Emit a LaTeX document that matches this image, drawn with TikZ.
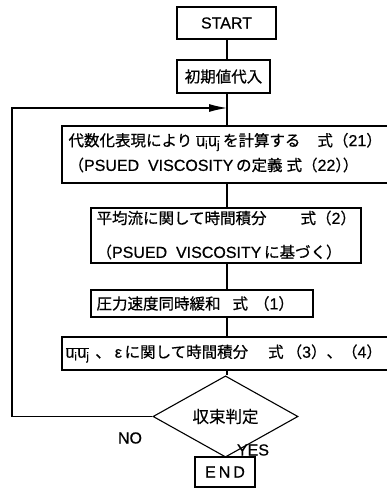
\documentclass[tikz,border=0pt]{standalone}
\usepackage{fontspec}
\setmainfont{Liberation Sans}[FakeBold=0.6]
\newfontfamily\jpfont{Noto Sans CJK JP}[FakeBold=0.6]
\newcommand\J[1]{{\jpfont\fontsize{15.5}{18}\selectfont #1}}
\newcommand\uu{\(\overline{\hbox{u\textsubscript{i}u\textsubscript{j}}}\)}
\usetikzlibrary{shapes.geometric,arrows.meta}
\begin{document}
\begin{tikzpicture}[x=1pt,y=-1pt,line width=1.1pt,
  every node/.style={font=\fontsize{16}{19}\selectfont},
  box/.style={draw,rectangle,inner sep=0pt},
  txt/.style={inner sep=0pt,anchor=west},
  decision/.style={draw,diamond,inner sep=0pt,minimum width=145pt,minimum height=47pt},
  lbl/.style={inner sep=0pt},
  looparrow/.style={-{Latex[length=18pt,width=8pt]}}]
\useasboundingbox (0,0) rectangle (386,495);
\coordinate (spine) at (227,0);
% boxes
\node[box,minimum width=99pt,minimum height=32pt] (start) at (226.5,23) {START};
\node[box,minimum width=93pt,minimum height=33pt] (init) at (223.5,76.5) {\J{初期値代入}};
\node[box,minimum width=350pt,minimum height=57pt] (calc) at (237,154.5) {};
\node[txt] (calc1) at (68,142) {\J{代数化表現により}\hspace{4pt}\uu\hspace{3pt}\J{を計算する}\hspace{17pt}\J{式（}21\J{）}};
\node[txt] (calc2) at (68,165) {\J{（}PSUED\ \ VISCOSITY\,\J{の定義\hspace{4pt}式（}22\J{）}\hspace{-8pt}\J{）}};
\node[box,minimum width=270pt,minimum height=55pt] (mean) at (226,235.5) {};
\node[txt] (mean1) at (96,218) {\J{平均流に関して時間積分}\hspace{34pt}\J{式（}2\J{）}};
\node[txt] (mean2) at (96,252) {\J{（}PSUED\ \ VISCOSITY\,\J{に基づく）}};
\node[box,minimum width=222pt,minimum height=27pt] (press) at (202,303.5) {};
\node[txt] (press1) at (96,303.5) {\J{圧力速度同時緩和}\hspace{12pt}\J{式}\hspace{6pt}\J{（}1\J{）}};
\node[box,minimum width=350pt,minimum height=33pt] (turb) at (237,353.5) {};
\node[txt] (turb1) at (65,353.5) {\uu\hspace{6pt}\J{、}\hspace{4pt}ε\,\J{に関して時間積分}\hspace{20pt}\J{式\hspace{3pt}（}3\J{）、（}4\J{）}};
\node[decision] (judge) at (225.5,416.5) {{\jpfont\fontsize{16.5}{18}\selectfont 収束判定}};
\node[box,minimum width=60pt,minimum height=30pt] (end) at (225,472) {E\hspace{3pt}N\hspace{3pt}D};
\node[lbl] (no) at (130,438) {NO};
\node[lbl] (yes) at (253,450) {YES};
% connectors
\draw (start.south -| spine) -- (init.north -| spine);
\draw (init.south -| spine) -- (calc.north -| spine);
\draw (calc.south -| spine) -- (mean.north -| spine);
\draw (mean.south -| spine) -- (press.north -| spine);
\draw (press.south -| spine) -- (turb.north -| spine);
\draw (turb.south -| spine) -- (judge.north -| spine);
\draw (judge.south -| spine) -- (end.north -| spine);
\coordinate (lt) at (12,108);
\coordinate (entry) at (227,108);
\draw[looparrow] (judge.west) -- (judge.west -| lt) -- (lt) -- (entry);
\end{tikzpicture}
\end{document}
